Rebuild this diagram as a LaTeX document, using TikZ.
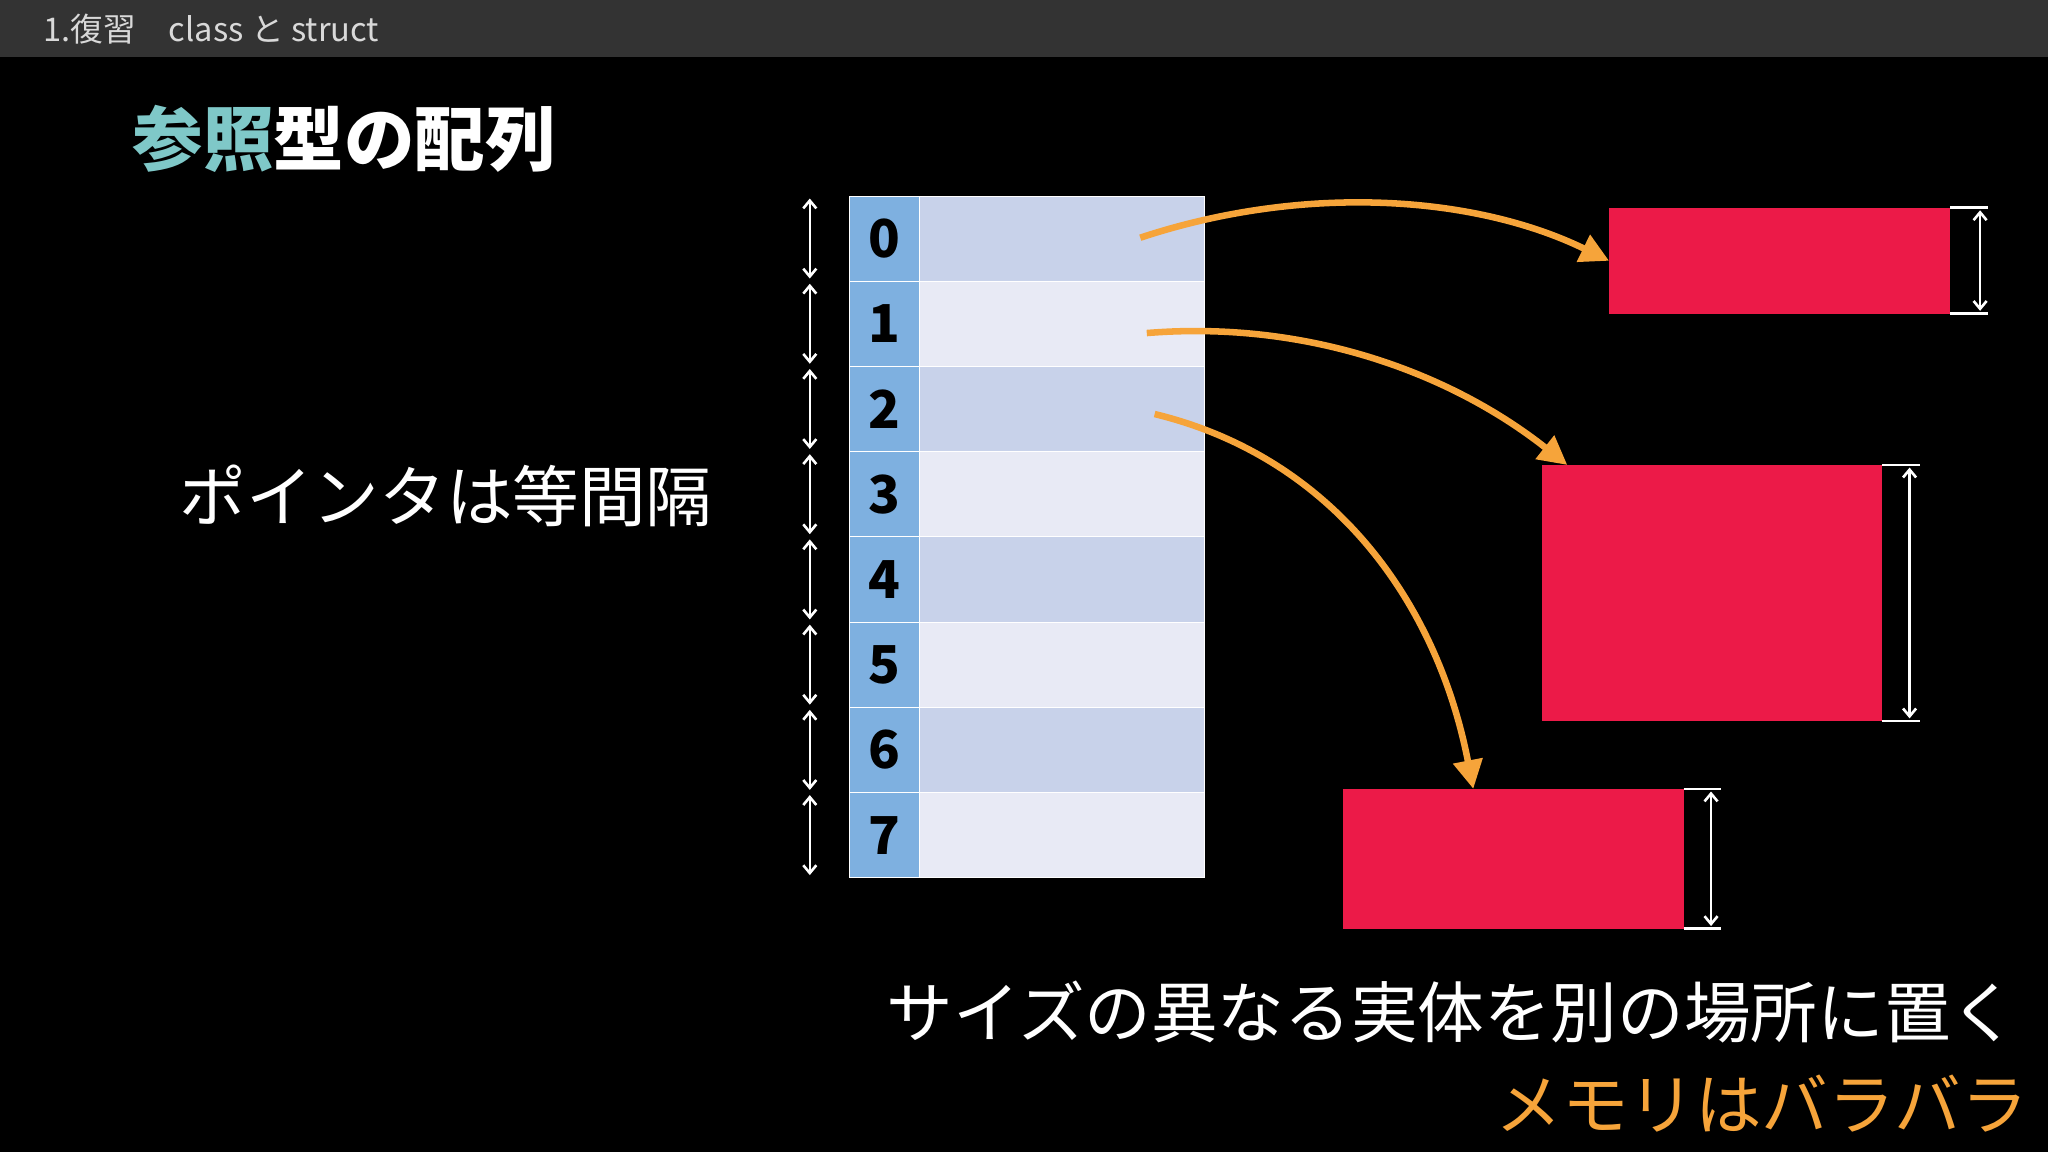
\documentclass[tikz,border=0pt]{standalone}
\usepackage{fontspec}
\setmainfont{Noto Sans CJK JP}
\usetikzlibrary{arrows.meta}
\definecolor{bar}{HTML}{333333}
\definecolor{teal}{HTML}{7FC8C8}
\definecolor{idx}{HTML}{7EB0E0}
\definecolor{rowa}{HTML}{C8D2EA}
\definecolor{rowb}{HTML}{E8EAF5}
\definecolor{objred}{HTML}{EC1A48}
\definecolor{orng}{HTML}{F6A43A}
\tikzset{
 dim/.style={white,line width=2pt,{Straight Barb[length=6pt,width=10pt]}-{Straight Barb[length=6pt,width=10pt]}},
 tick/.style={white,line width=2pt},
 ptr/.style={orng,line width=5pt,-{Triangle[length=22pt,width=22pt]}},
 obj/.style={fill=objred,draw=none},
 num/.style={font=\fontsize{40}{40}\selectfont\bfseries,black},
}
\begin{document}
\begin{tikzpicture}[x=1pt,y=-1pt]
\useasboundingbox (0,0) rectangle (1568,882);
\fill[black] (0,0) rectangle (1568,882);
\fill[bar] (0,0) rectangle (1568,44);
\node[anchor=west,text=white!85!black,font=\fontsize{25}{25}\selectfont] (hdr) at (30,22) {1.復習\quad class と struct};
\node[anchor=west,font=\fontsize{54}{54}\selectfont\bfseries] (title) at (98,106) {\textcolor{teal}{参照}\textcolor{white}{型の配列}};
\node[anchor=west,text=white,font=\fontsize{51}{51}\selectfont] (eq) at (134,380) {ポインタは等間隔};
\foreach \i in {0,...,7}{
  \pgfmathsetmacro{\ya}{150+65.25*\i}
  \pgfmathsetmacro{\yb}{150+65.25*(\i+1)}
  \pgfmathtruncatemacro{\odd}{mod(\i,2)}
  \ifnum\odd=0 \def\rc{rowa}\else\def\rc{rowb}\fi
  \fill[\rc,draw=white,line width=0.5pt] (704,\ya) rectangle (922,\yb);
  \fill[idx,draw=white,line width=0.5pt] (650,\ya) rectangle (704,\yb);
  \node[num] (n\i) at (677,{(\ya+\yb)/2}) {\i};
  \draw[dim] (620,\ya+2) -- (620,\yb-2);
}
\node[obj,minimum width=261pt,minimum height=81pt,anchor=north west,inner sep=0] (o1) at (1232,159) {};
\node[obj,minimum width=261pt,minimum height=196pt,anchor=north west,inner sep=0] (o2) at (1180,356) {};
\node[obj,minimum width=261pt,minimum height=107pt,anchor=north west,inner sep=0] (o3) at (1028,604) {};
\draw[tick] (1493,159) -- (1522,159) (1493,240) -- (1522,240);
\draw[dim] (1516,161) -- (1516,238);
\draw[tick] (1441,356) -- (1470,356) (1441,552) -- (1470,552);
\draw[dim] (1462,358) -- (1462,550);
\draw[tick] (1289,604) -- (1318,604) (1289,711) -- (1318,711);
\draw[dim] (1310,606) -- (1310,709);
\coordinate (p0) at (873,182);
\coordinate (p1) at (878,255);
\coordinate (p2) at (884,317);
\draw[ptr] (p0) .. controls (1000,140) and (1130,150) .. (o1.west);
\draw[ptr] (p1) .. controls (1000,245) and (1110,285) .. (1200,356);
\draw[ptr] (p2) .. controls (1020,350) and (1100,460) .. (1128,604);
\node[anchor=east,text=white,font=\fontsize{51}{51}\selectfont] (t1) at (1548,775) {サイズの異なる実体を別の場所に置く};
\node[anchor=east,text=orng,font=\fontsize{51}{51}\selectfont] (t2) at (1556,845) {メモリはバラバラ};
\end{tikzpicture}
\end{document}
